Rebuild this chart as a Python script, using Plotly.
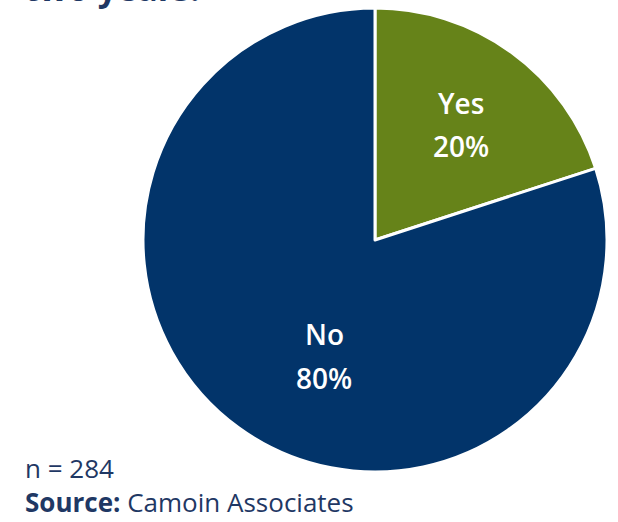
import plotly.graph_objects as go

# Survey responses
labels = ["Yes", "No"]
shares = [20, 80]
colors = ["#668319", "#02346A"]
sample_size = 284
source = "Camoin Associates"
title_tail = "two years."

W, H = 618, 522
NAVY = "#1F3864"
FONT = "Open Sans"

fig = go.Figure(
    go.Pie(
        labels=labels,
        values=shares,
        sort=False,
        direction="clockwise",
        rotation=0,
        marker=dict(colors=colors, line=dict(color="white", width=3)),
        textinfo="none",
        hoverinfo="label+percent",
        domain=dict(x=[143 / W, 607 / W], y=[50 / H, 514 / H]),
        showlegend=False,
    )
)

# In-slice labels: category name above its percentage
label_pos = {"Yes": (461, 103, 146), "No": (324, 334, 378)}
for lab, val in zip(labels, shares):
    x, y1, y2 = label_pos[lab]
    for txt, yy in ((lab, y1), (f"{val}%", y2)):
        fig.add_annotation(
            x=x / W, y=1 - yy / H, xref="paper", yref="paper",
            text=txt, showarrow=False,
            xanchor="center", yanchor="middle",
            font=dict(family=FONT, size=28, color="white", weight=600),
        )

# Title (runs off the top edge)
fig.add_annotation(
    x=22 / W, y=1, xref="paper", yref="paper",
    text=f"<b>{title_tail}</b>", showarrow=False,
    xanchor="left", yanchor="bottom", yshift=-13,
    font=dict(family=FONT, size=34, color=NAVY),
)

# Footnotes: sample size and source on two lines
fig.add_annotation(
    x=23 / W, y=0, xref="paper", yref="paper",
    text=f"n = {sample_size}<br><b>Source:</b> {source}",
    showarrow=False, align="left",
    xanchor="left", yanchor="bottom",
    font=dict(family=FONT, size=26, color=NAVY),
)

fig.update_layout(
    width=W, height=H,
    margin=dict(l=0, r=0, t=0, b=0),
    paper_bgcolor="white", plot_bgcolor="white",
)

fig.write_html("out.html")
